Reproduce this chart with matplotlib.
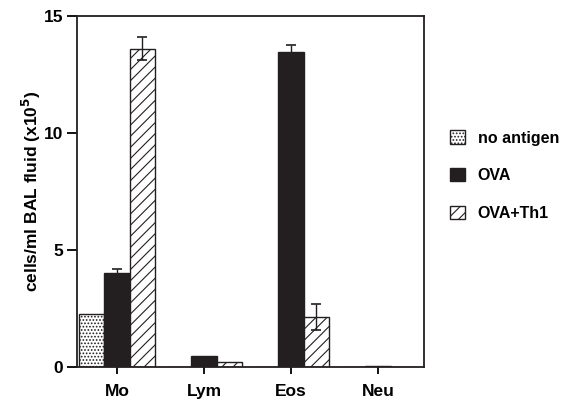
import numpy as np
import matplotlib
matplotlib.use("Agg")
import matplotlib.pyplot as plt

plt.rcParams['font.family'] = ['Liberation Sans', 'DejaVu Sans']
plt.rcParams['font.weight'] = 'bold'
plt.rcParams['hatch.linewidth'] = 0.8

# cell types and group means/errors
cells = ["Mo", "Lym", "Eos", "Neu"]
groups = ["no antigen", "OVA", "OVA+Th1"]
no_antigen = [2.25, 0.02, 0.0, 0.0]
ova = [4.0, 0.45, 13.45, 0.05]
ova_th1 = [13.6, 0.22, 2.15, 0.0]
no_antigen_err = [0.0, 0.0, 0.0, 0.0]
ova_err = [0.2, 0.0, 0.3, 0.0]
ova_th1_err = [0.5, 0.0, 0.55, 0.0]

fig = plt.figure(figsize=(5.7, 4.0), dpi=100)
ax = fig.add_axes([0.135, 0.0825, 0.609, 0.8775])

x = np.arange(len(cells))
w = 0.29

styles = [
    dict(facecolor="white", hatch="....."),
    dict(facecolor="#231f20", hatch=None),
    dict(facecolor="white", hatch="///"),
]
vals = [no_antigen, ova, ova_th1]
errs = [no_antigen_err, ova_err, ova_th1_err]

handles = []
for i in range(3):
    xi = x + (i - 1) * w
    b = ax.bar(xi, vals[i], w, edgecolor="#231f20", linewidth=1.0,
               label=groups[i], **styles[i])
    handles.append(b)
    e = np.array(errs[i])
    m = e > 0
    if m.any():
        ax.errorbar(xi[m], np.array(vals[i])[m], yerr=e[m], fmt="none",
                    ecolor="#231f20", elinewidth=1.0, capsize=3.5, capthick=1.2)

ax.set_xlim(-0.46, 3.53)
ax.set_ylim(0, 15)
ax.set_yticks([0, 5, 10, 15])
ax.set_xticks(x)
ax.set_xticklabels(cells, fontsize=12.5, fontweight="bold")
ax.tick_params(axis="y", labelsize=12.5, length=7, width=1.3, pad=3)
ax.tick_params(axis="x", length=5, width=1.3, pad=7)
for lab in ax.get_yticklabels():
    lab.set_fontweight("bold")
for s in ax.spines.values():
    s.set_linewidth(1.3)
    s.set_color("#231f20")

ax.set_ylabel("cells/ml BAL fluid (x10$^5$)", fontsize=12.5,
              fontweight="bold", labelpad=0.5)

leg = fig.legend(handles=handles, labels=groups, loc="upper left",
                 bbox_to_anchor=(0.765, 0.71), frameon=False,
                 handlelength=0.9, handleheight=0.9, handletextpad=0.8,
                 labelspacing=1.42, prop={"weight": "bold", "size": 11.5})

fig.savefig("out.png", dpi=100)
